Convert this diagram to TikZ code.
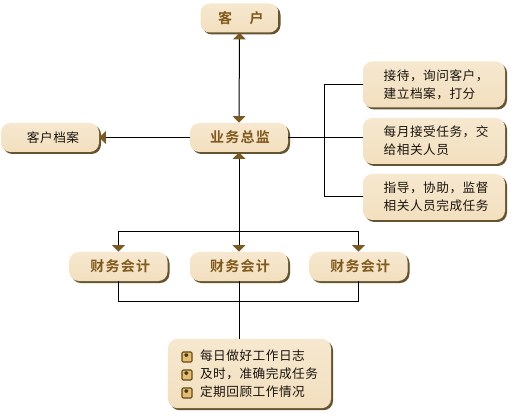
\documentclass[tikz,border=0pt]{standalone}
\usepackage{fontspec}
\setmainfont{Noto Sans CJK SC}
\newfontfamily\cjkplain[LetterSpace=4]{Noto Sans CJK SC}
\newfontfamily\cjkbold[LetterSpace=9]{Noto Sans CJK SC Bold}
\usetikzlibrary{arrows.meta,shadows}
\definecolor{boxfill}{HTML}{F2DFBE}
\definecolor{boxtop}{HTML}{F6E8CF}
\definecolor{shadowc}{HTML}{66532F}
\definecolor{tipc}{HTML}{7A5A20}
\definecolor{headc}{HTML}{80591C}
\definecolor{bodyc}{HTML}{1A140E}
\definecolor{bulletc}{HTML}{E6BE72}
\tikzset{
  x=0.75pt,y=-0.75pt,
  cardbox/.style={rectangle,rounded corners=7pt,draw=none,top color=boxtop,bottom color=boxfill,
    copy shadow={shadow xshift=1.5pt,shadow yshift=-1.5pt,fill=shadowc,draw=none},inner sep=0pt},
  headbox/.style={cardbox,minimum width=73.5pt,minimum height=21.75pt,font=\cjkbold\fontsize{10.5}{12}\selectfont,text=headc},
  filebox/.style={cardbox,minimum width=73.5pt,minimum height=21.75pt,font=\cjkplain\fontsize{9.5}{12}\selectfont,text=bodyc},
  notebox/.style={cardbox,text width=79.5pt,inner xsep=13.5pt,minimum height=34.5pt,align=left,font=\cjkplain\fontsize{9.5}{13.5}\selectfont,text=bodyc},
  listbox/.style={cardbox,text width=122.25pt,minimum height=52pt,align=left,font=\cjkplain\fontsize{9.5}{13.5}\selectfont,text=bodyc},
  link/.style={draw=black,line width=0.75pt},
  tipend/.style={-{Triangle[width=9.5pt,length=5pt,color=tipc,fill=tipc]}},
  tipboth/.style={{Triangle[width=9.5pt,length=5pt,color=tipc,fill=tipc]}-{Triangle[width=9.5pt,length=5pt,color=tipc,fill=tipc]}},
  bulletbox/.style={rectangle,draw=tipc!80!black,line width=0.8pt,fill=bulletc,minimum size=7.5pt,inner sep=0pt,rounded corners=0.8pt,
    path picture={\fill[tipc!60!black] ([xshift=-2.2pt,yshift=0.7pt]path picture bounding box.center) -- ++(2,0) -- ++(0,1.4) -- ++(3,-2.4) -- ++(-3,-2.4) -- ++(0,1.4) -- ++(-2,0) -- cycle;}}
}
\newcommand{\listind}{\hspace*{24pt}}
\newcommand{\noteind}{\hspace*{2pt}}
\begin{document}
\begin{tikzpicture}
\useasboundingbox (0,0) rectangle (520,416);
\node[headbox,minimum width=58.5pt] (client) at (239.5,18) {\hspace*{2pt}客\hspace{13pt}户};
\node[headbox] (boss) at (239,137.5) {\hspace*{1.5pt}业务总监};
\node[filebox] (file) at (50,137.5) {\hspace*{4.5pt}客户档案};
\node[notebox] (r1) at (434,84.5) {\noteind 接待，询问客户，\\\noteind 建立档案，打分};
\node[notebox] (r2) at (434,141) {\noteind 每月接受任务，交\\\noteind 给相关人员};
\node[notebox] (r3) at (434,197) {\noteind 指导，协助，监督\\\noteind 相关人员完成任务};
\node[headbox] (a1) at (118.5,266.5) {\hspace*{2.5pt}财务会计};
\node[headbox] (a2) at (239,266.5) {\hspace*{1.5pt}财务会计};
\node[headbox] (a3) at (358.5,266.5) {\hspace*{2.5pt}财务会计};
\node[listbox] (low) at (249.5,373.5) {\listind 每日做好工作日志\\\listind 及时，准确完成任务\\\listind 定期回顾工作情况};
\node[bulletbox] (b1) at (187,357) {};
\node[bulletbox] (b2) at (187,375) {};
\node[bulletbox] (b3) at (187,393) {};
\coordinate (busx) at (324.5,138);
\coordinate (topy) at (239,232);
\coordinate (boty) at (239,301);
\draw[link,tipboth] (client.south) -- (boss.north);
\draw[link,tipend] (boss.west) -- (file.east);
\draw[link] (boss.east) -- (boss.east -| r2.west);
\draw[link] (r1.west) -- (r1.west -| busx) -- (r3.west -| busx) -- (r3.west);
\draw[link,tipboth] (boss.south) -- (a2.north);
\draw[link,tipend] (topy) -- (topy -| a1.north) -- (a1.north);
\draw[link,tipend] (topy) -- (topy -| a3.north) -- (a3.north);
\draw[link] (a1.south) -- (a1.south |- boty) -- (a3.south |- boty) -- (a3.south);
\draw[link] (a2.south) -- (a2.south |- low.north);
\end{tikzpicture}
\end{document}
